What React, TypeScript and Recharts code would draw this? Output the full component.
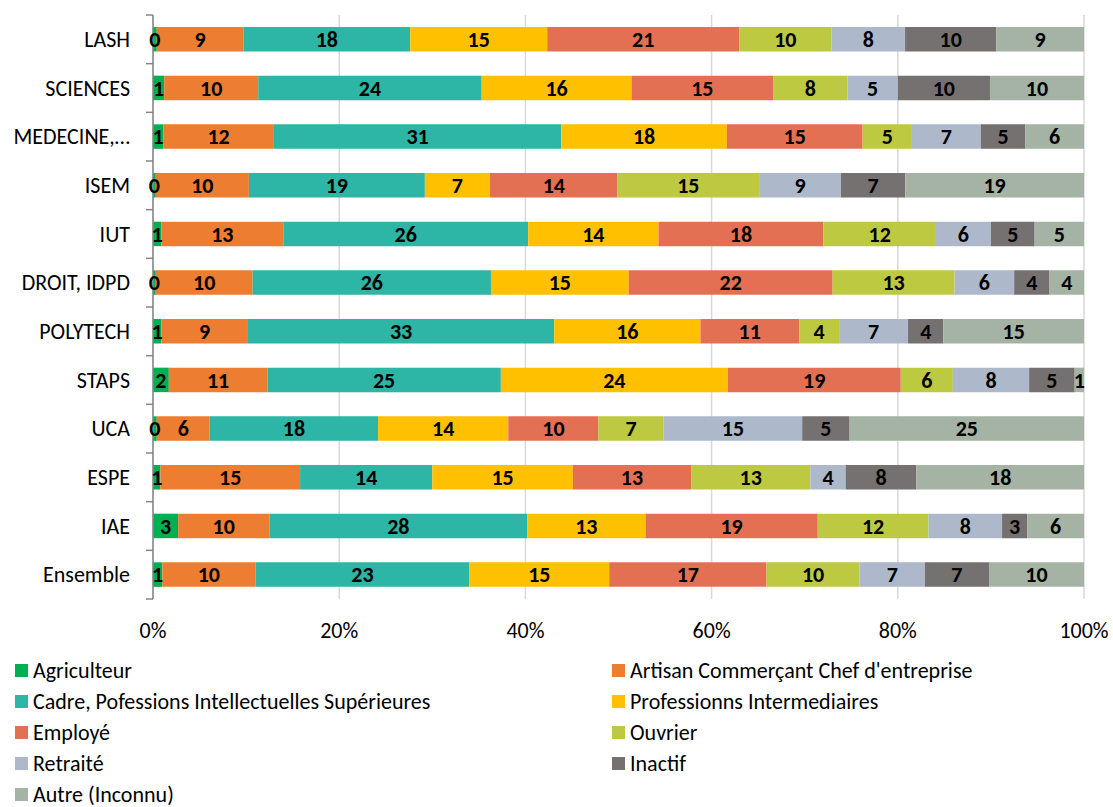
import React from "react";
import {
  BarChart,
  Bar,
  XAxis,
  YAxis,
  CartesianGrid,
  Legend,
  LabelList,
} from "recharts";

const categories = [
  "LASH",
  "SCIENCES",
  "MEDECINE,…",
  "ISEM",
  "IUT",
  "DROIT, IDPD",
  "POLYTECH",
  "STAPS",
  "UCA",
  "ESPE",
  "IAE",
  "Ensemble",
];

// shares in %, labels show the rounded value
const agriculteur = [0.4, 1.2, 1.1, 0.3, 0.9, 0.3, 0.9, 1.7, 0.4, 0.8, 2.7, 1.0];
const artisan = [9.3, 10.1, 11.9, 10.0, 13.1, 10.4, 9.3, 10.6, 5.7, 15.0, 9.8, 10.0];
const cadre = [17.9, 24.0, 30.9, 18.9, 26.3, 25.6, 32.9, 25.1, 18.1, 14.2, 27.7, 23.0];
const profInter = [14.7, 16.1, 17.8, 7.0, 14.0, 14.8, 15.7, 24.4, 14.0, 15.1, 12.7, 15.0];
const employe = [20.6, 15.2, 14.6, 13.7, 17.7, 21.9, 10.6, 18.6, 9.7, 12.7, 18.5, 16.9];
const ouvrier = [9.9, 8.0, 5.3, 15.2, 12.1, 13.1, 4.3, 5.6, 7.0, 12.8, 11.9, 10.0];
const retraite = [7.9, 5.4, 7.4, 8.8, 5.9, 6.4, 7.4, 8.2, 14.9, 3.8, 7.9, 7.0];
const inactif = [9.8, 9.9, 4.8, 6.9, 4.7, 3.8, 3.8, 4.9, 5.1, 7.6, 2.7, 6.9];
const autre = [9.4, 10.1, 6.3, 19.2, 5.3, 3.7, 15.1, 1.0, 25.2, 18.0, 6.1, 10.2];

const xTicks = [0, 0.2, 0.4, 0.6, 0.8, 1];

const series = [
  { key: "agriculteur", name: "Agriculteur", values: agriculteur, color: "#00B050" },
  { key: "artisan", name: "Artisan Commerçant Chef d'entreprise", values: artisan, color: "#ED7D31" },
  { key: "cadre", name: "Cadre, Pofessions Intellectuelles Supérieures", values: cadre, color: "#2DB5A5" },
  { key: "profInter", name: "Professionns Intermediaires", values: profInter, color: "#FFC000" },
  { key: "employe", name: "Employé", values: employe, color: "#E37053" },
  { key: "ouvrier", name: "Ouvrier", values: ouvrier, color: "#BDC940" },
  { key: "retraite", name: "Retraité", values: retraite, color: "#ADB9CB" },
  { key: "inactif", name: "Inactif", values: inactif, color: "#767171" },
  { key: "autre", name: "Autre (Inconnu)", values: autre, color: "#A4B3A4" },
];

const data = categories.map((name, i) => {
  const row: Record<string, string | number> = { name };
  series.forEach((s) => {
    row[s.key] = s.values[i];
  });
  return row;
});

const FONT = "Carlito, Calibri, Lato, sans-serif";
const PLOT_HEIGHT = 584;
const AXIS_GREY = "#868686";

function CategoryTick(props: any) {
  const { x, y, payload, index } = props;
  const band = PLOT_HEIGHT / categories.length;
  const axisX = x + 23;
  return (
    <g>
      <line x1={axisX - 7} x2={axisX} y1={y - band / 2} y2={y - band / 2} stroke={AXIS_GREY} strokeWidth={1.5} />
      {index === categories.length - 1 && (
        <line x1={axisX - 7} x2={axisX} y1={y + band / 2} y2={y + band / 2} stroke={AXIS_GREY} strokeWidth={1.5} />
      )}
      <text x={x} y={y} textAnchor="end" dominantBaseline="central" fontSize={22} fill="#000">
        {payload.value}
      </text>
    </g>
  );
}

// legend in series order, two columns
function LegendGrid({ payload }: any) {
  const order = series.map((s) => s.name);
  const items = [...(payload || [])].sort(
    (a: any, b: any) => order.indexOf(a.value) - order.indexOf(b.value)
  );
  return (
    <div
      style={{
        display: "grid",
        gridTemplateColumns: "597px auto",
        paddingLeft: 15,
        fontSize: 22,
        color: "#000",
        fontFamily: FONT,
      }}
    >
      {items.map((item: any) => (
        <div key={item.value} style={{ display: "flex", alignItems: "center", height: 31 }}>
          <span style={{ width: 13, height: 13, background: item.color, marginRight: 5, flex: "none" }} />
          <span style={{ whiteSpace: "nowrap" }}>{item.value}</span>
        </div>
      ))}
    </div>
  );
}

export default function App() {
  return (
    <div style={{ position: "absolute", left: 0, top: 0, fontFamily: FONT, background: "#fff" }}>
      <BarChart
        width={1113}
        height={807}
        data={data}
        layout="vertical"
        stackOffset="expand"
        barSize={24.5}
        margin={{ top: 15, right: 29, left: 0, bottom: 13 }}
      >
        <CartesianGrid horizontal={false} stroke="#D9D9D9" strokeWidth={1.5} />
        <XAxis
          type="number"
          domain={[0, 1]}
          ticks={xTicks}
          tickFormatter={(v: number) => `${Math.round(v * 100)}%`}
          axisLine={false}
          tickLine={false}
          tickSize={0}
          tickMargin={23}
          height={40}
          tick={{ fill: "#000", fontSize: 22 }}
        />
        <YAxis
          type="category"
          dataKey="name"
          width={153}
          axisLine={{ stroke: AXIS_GREY, strokeWidth: 1.5 }}
          tickLine={false}
          tickSize={0}
          tickMargin={23}
          interval={0}
          tick={<CategoryTick />}
        />
        <Legend
          content={<LegendGrid />}
          wrapperStyle={{ top: 655, left: 0, bottom: "auto", width: 1113, height: 155 }}
        />
        {series.map((s) => (
          <Bar key={s.key} dataKey={s.key} name={s.name} stackId="a" fill={s.color} isAnimationActive={false}>
            <LabelList
              dataKey={s.key}
              position="center"
              formatter={(v: any) => Math.round(Number(v))}
              fill="#000"
              fontSize={22}
              fontWeight="bold"
            />
          </Bar>
        ))}
      </BarChart>
    </div>
  );
}
